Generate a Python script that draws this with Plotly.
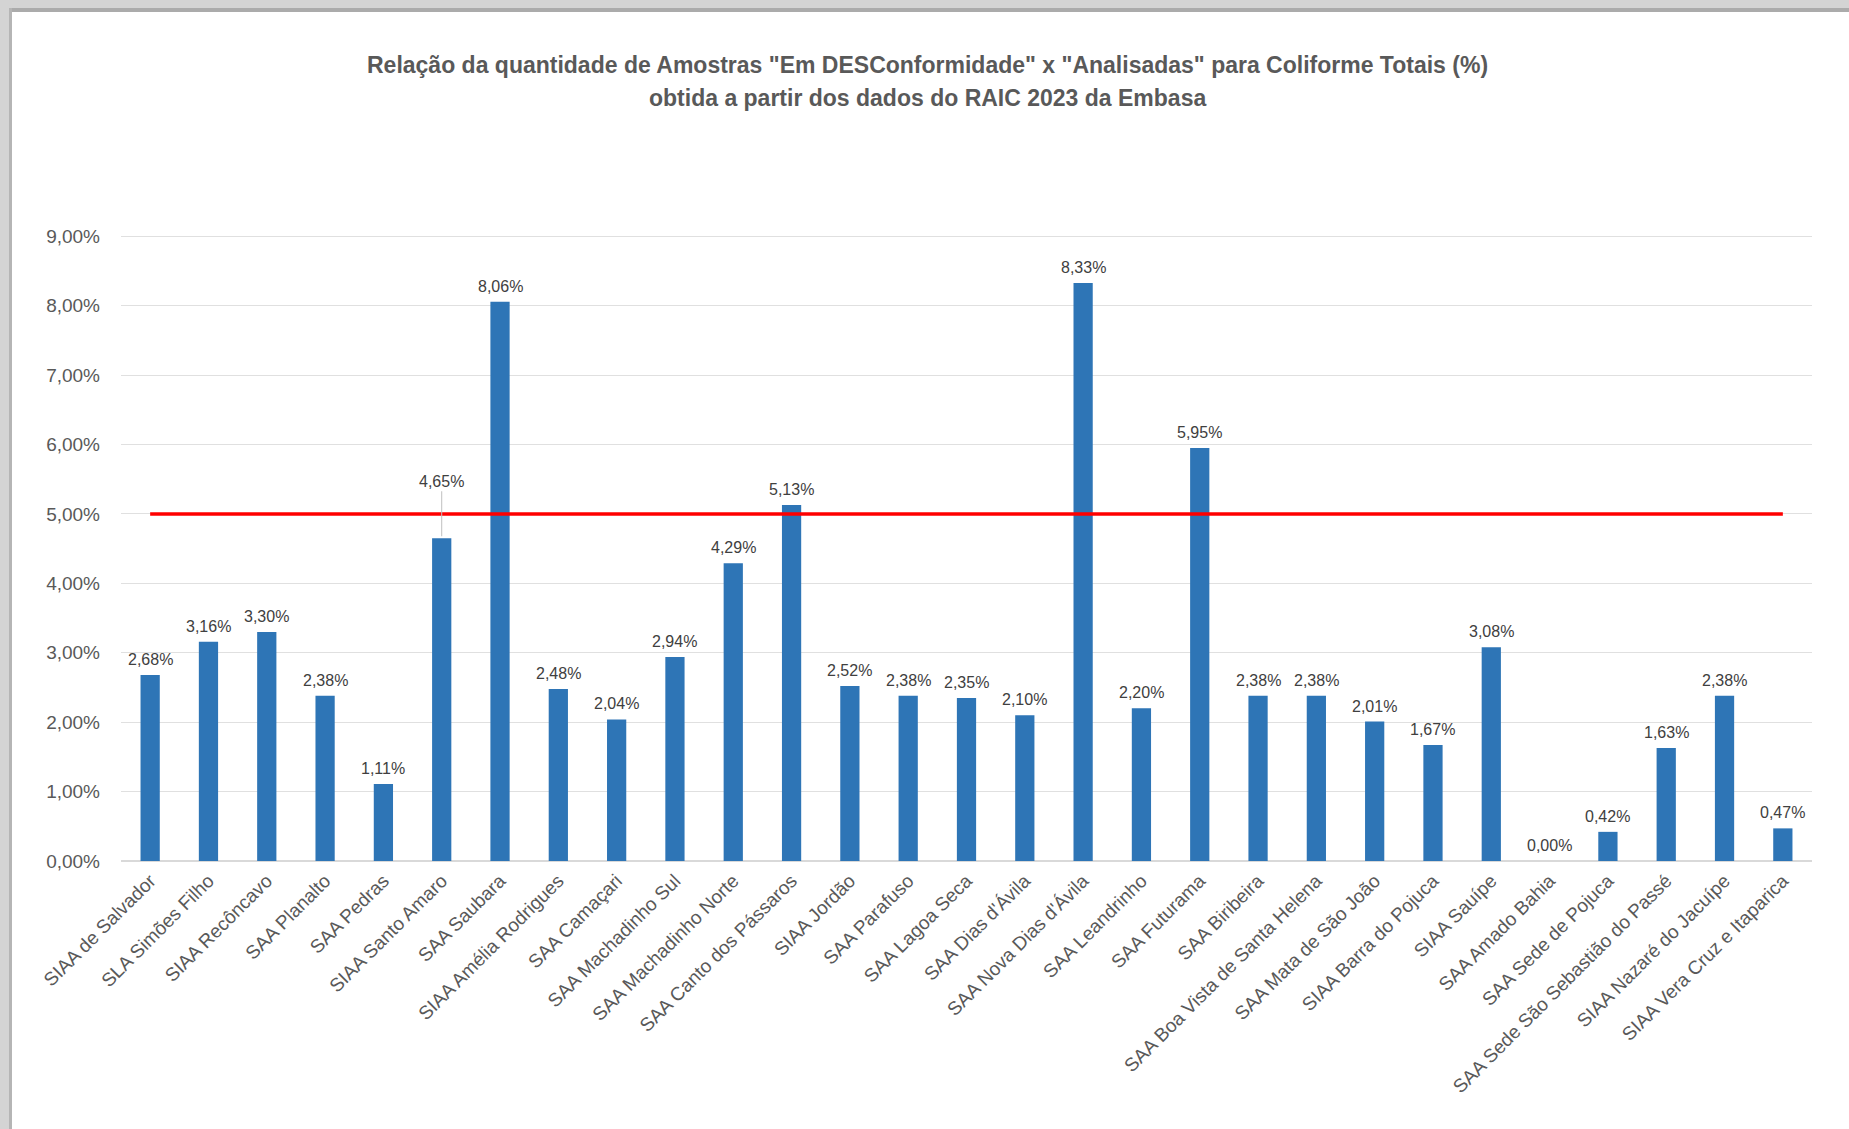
import plotly.graph_objects as go

categories = [
    "SIAA de Salvador", "SLA Simões Filho", "SIAA Recôncavo", "SAA Planalto",
    "SAA Pedras", "SIAA Santo Amaro", "SAA Saubara", "SIAA Amélia Rodrigues",
    "SAA Camaçari", "SAA Machadinho Sul", "SAA Machadinho Norte",
    "SAA Canto dos Pássaros", "SIAA Jordão", "SAA Parafuso", "SAA Lagoa Seca",
    "SAA Dias d'Ávila", "SAA Nova Dias d'Ávila", "SAA Leandrinho",
    "SAA Futurama", "SAA Biribeira", "SAA Boa Vista de Santa Helena",
    "SAA Mata de São João", "SIAA Barra do Pojuca", "SIAA Sauípe",
    "SAA Amado Bahia", "SAA Sede de Pojuca", "SAA Sede São Sebastião do Passé",
    "SIAA Nazaré do Jacuípe", "SIAA Vera Cruz e Itaparica",
]
values = [
    2.68, 3.16, 3.30, 2.38, 1.11, 4.65, 8.06, 2.48, 2.04, 2.94, 4.29, 5.13,
    2.52, 2.38, 2.35, 2.10, 8.33, 2.20, 5.95, 2.38, 2.38, 2.01, 1.67, 3.08,
    0.00, 0.42, 1.63, 2.38, 0.47,
]
limit_value = 5.0
leader_label_category = "SIAA Santo Amaro"
y_tick_values = [0, 1, 2, 3, 4, 5, 6, 7, 8, 9]

title_lines = [
    'Relação da quantidade de Amostras "Em DESConformidade" x "Analisadas" para Coliforme Totais (%)',
    "obtida a partir dos dados do RAIC 2023 da Embasa",
]

TITLE_FONT = "Liberation Sans Narrow, Arial Narrow, Liberation Sans, Arial, sans-serif"
BODY_FONT = "Liberation Sans, Arial, sans-serif"


def fmt(v):
    return f"{v:.2f}".replace(".", ",") + "%"


L, R, T, B = 121, 37, 235, 268
W, H = 1849, 1129
pw, ph = W - L - R, H - T - B


def px_x(p):
    return (p - L) / pw


def px_y(p):
    return (H - B - p) / ph


fig = go.Figure()
fig.add_trace(go.Bar(
    x=categories, y=values,
    marker=dict(color="#2E75B6", line=dict(width=0)),
    hoverinfo="x+y",
))
fig.add_trace(go.Scatter(
    x=[categories[0], categories[-1]], y=[limit_value, limit_value],
    mode="lines", line=dict(color="#FF0000", width=3.5),
    hoverinfo="skip",
))

annotations = []
for c, v in zip(categories, values):
    if c == leader_label_category:
        annotations.append(dict(
            x=c, y=v, xref="x", yref="y", text=fmt(v),
            showarrow=True, arrowhead=0, arrowwidth=1, arrowcolor="#BFBFBF",
            ax=0, ay=-57, standoff=2,
            font=dict(family=BODY_FONT, size=16, color="#404040"),
        ))
    else:
        annotations.append(dict(
            x=c, y=v, xref="x", yref="y", text=fmt(v), showarrow=False,
            yanchor="bottom", yshift=5,
            font=dict(family=BODY_FONT, size=16, color="#404040"),
        ))

for line_text, cy in zip(title_lines, [65, 98]):
    annotations.append(dict(
        x=px_x(927), y=px_y(cy), xref="paper", yref="paper",
        xanchor="center", yanchor="middle", showarrow=False,
        text="<b>" + line_text + "</b>",
        font=dict(family=TITLE_FONT, size=23, color="#595959"),
    ))

shapes = [
    dict(type="rect", xref="paper", yref="paper", layer="above",
         x0=px_x(0), x1=px_x(W), y0=px_y(10), y1=px_y(0),
         fillcolor="#D4D4D4", line=dict(width=0)),
    dict(type="rect", xref="paper", yref="paper", layer="above",
         x0=px_x(0), x1=px_x(W), y0=px_y(12), y1=px_y(8),
         fillcolor="#ABABAB", line=dict(width=0)),
    dict(type="rect", xref="paper", yref="paper", layer="above",
         x0=px_x(0), x1=px_x(10), y0=px_y(H), y1=px_y(0),
         fillcolor="#D4D4D4", line=dict(width=0)),
    dict(type="rect", xref="paper", yref="paper", layer="above",
         x0=px_x(9), x1=px_x(12), y0=px_y(H), y1=px_y(8),
         fillcolor="#B5B5B5", line=dict(width=0)),
]

fig.update_layout(
    width=W, height=H,
    margin=dict(l=L, r=R, t=T, b=B),
    paper_bgcolor="white", plot_bgcolor="white",
    showlegend=False,
    bargap=0.67,
    xaxis=dict(
        type="category", tickangle=-45,
        tickfont=dict(family=BODY_FONT, size=19, color="#595959"),
        showgrid=False, showline=False, ticks="", ticklabelstandoff=4,
    ),
    yaxis=dict(
        range=[0, 9.02], tickmode="array", tickvals=y_tick_values,
        ticktext=[fmt(v) for v in y_tick_values],
        tickfont=dict(family=BODY_FONT, size=19, color="#595959"),
        gridcolor="#E0E0E0", gridwidth=1.2,
        zeroline=True, zerolinecolor="#D9D9D9", zerolinewidth=1.5,
        showline=False, ticks="", ticklabelstandoff=20,
    ),
    annotations=annotations,
    shapes=shapes,
)

fig.write_html("out.html", config={"displayModeBar": False},
               post_script="document.body.style.margin='0';")
